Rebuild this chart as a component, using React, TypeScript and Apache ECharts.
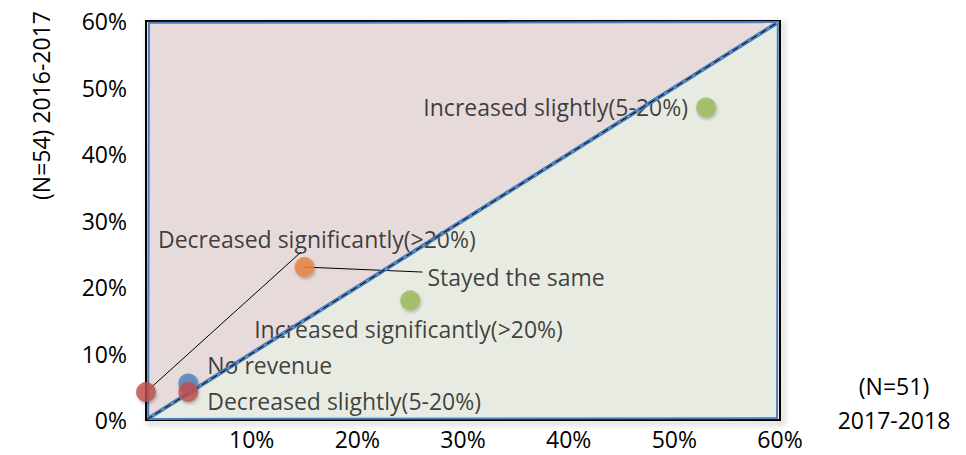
import React, { useEffect, useRef } from "react";
import * as echarts from "echarts";

// ---- data ----
const categories = [
  "Decreased significantly(>20%)",
  "No revenue",
  "Decreased slightly(5-20%)",
  "Stayed the same",
  "Increased significantly(>20%)",
  "Increased slightly(5-20%)",
];
const xValues = [0, 4, 4, 15, 25, 53]; // (N=51) 2017-2018, %
const yValues = [4.2, 5.5, 4.2, 23, 18, 47]; // (N=54) 2016-2017, %
const pointColors = ["#c0504d", "#4f81bd", "#c0504d", "#e8823d", "#9bbb59", "#9bbb59"];

const xTickLabels = ["", "10%", "20%", "30%", "40%", "50%", "60%"];
const yTickLabels = ["0%", "10%", "20%", "30%", "40%", "50%", "60%"];
const xAxisTitle = "(N=51)\n2017-2018";
const yAxisTitle = "(N=54) 2016-2017";

const upperTriangle = [[0, 0], [0, 60], [60, 60]];
const lowerTriangle = [[0, 0], [60, 0], [60, 60]];
const diagonal = [[0, 0], [60, 60]];

// ---- layout (pixel offsets, styles) ----
const labelOffsets: [number, number, string][] = [
  [12, -153, "left"],
  [19, -18, "left"],
  [19, 9, "left"],
  [123, 10, "left"],
  [-156, 29, "left"],
  [-18, 0, "right"],
];
const leaderIndex = [0, 3];
const leaderEnds = [[155, -140], [118, 5]];
const triangleFills = ["#e6dadb", "#e8ebe2"];
const FONT = "Open Sans";
const FS = 23;
const FW = 500;

export default function App() {
  const ref = useRef<HTMLDivElement>(null);
  useEffect(() => {
    if (!ref.current) return;
    const chart = echarts.init(ref.current, undefined, { renderer: "svg" });
    const triangles = [upperTriangle, lowerTriangle];
    const insetTriangle = (api: any) => {
      const pts = [0, 1, 2].map((k) => api.coord([api.value(2 * k), api.value(2 * k + 1)]));
      const cx = (pts[0][0] + pts[1][0] + pts[2][0]) / 3;
      const cy = (pts[0][1] + pts[1][1] + pts[2][1]) / 3;
      return pts.map(([x, y]: number[]) => {
        const dx = cx - x;
        const dy = cy - y;
        const d = Math.hypot(dx, dy) || 1;
        return [x + (dx / d) * 3.5, y + (dy / d) * 3.5];
      });
    };
    const pointData = categories.map((c, i) => ({
      name: c,
      value: [xValues[i], yValues[i]],
      itemStyle: { color: pointColors[i] },
    }));
    chart.setOption({
      animation: false,
      backgroundColor: "#ffffff",
      grid: {
        left: 146,
        right: 186,
        top: 21,
        bottom: 35,
        outerBoundsMode: "none",
        containLabel: false,
        show: true,
        borderColor: "#000",
        borderWidth: 2,
        backgroundColor: "transparent",
        shadowColor: "rgba(0,0,0,0.35)",
        shadowBlur: 6,
        shadowOffsetX: 3,
        shadowOffsetY: 3,
      },
      graphic: [
        {
          type: "text",
          x: 894,
          y: 403,
          style: {
            text: xAxisTitle,
            fill: "#000",
            fontSize: FS,
            fontWeight: FW,
            fontFamily: FONT,
            align: "center",
            verticalAlign: "middle",
            lineHeight: 34,
          },
        },
      ],
      xAxis: {
        type: "value",
        min: 0,
        max: 60,
        interval: 10,
        axisLine: { show: false },
        axisTick: { show: false },
        splitLine: { show: false },
        axisLabel: {
          formatter: (v: number) => xTickLabels[Math.round(v / 10)] ?? "",
          color: "#000",
          fontSize: FS,
          fontWeight: FW,
          fontFamily: FONT,
          lineHeight: 20,
          margin: 9,
        },
      },
      yAxis: {
        type: "value",
        min: 0,
        max: 60,
        interval: 10,
        axisLine: { show: false },
        axisTick: { show: false },
        splitLine: { show: false },
        axisLabel: {
          formatter: (v: number) => yTickLabels[Math.round(v / 10)] ?? "",
          color: "#000",
          fontSize: FS,
          fontWeight: FW,
          fontFamily: FONT,
          margin: 19,
        },
        name: yAxisTitle,
        nameLocation: "middle",
        nameRotate: 90,
        nameGap: 94,
        nameTextStyle: {
          color: "#000",
          fontSize: FS,
          fontWeight: FW,
          fontFamily: FONT,
          padding: [0, 0, 0, 230],
        },
      },
      series: [
        {
          type: "custom",
          silent: true,
          z: 1,
          encode: { x: [0, 2, 4], y: [1, 3, 5] },
          data: triangles.map((t) => t.flat()),
          renderItem: (params: any, api: any) => ({
            type: "polygon",
            shape: { points: insetTriangle(api) },
            style: { fill: triangleFills[params.dataIndex] },
          }),
        },
        {
          type: "custom",
          silent: true,
          z: 2,
          data: leaderIndex.map((i) => [xValues[i], yValues[i]]),
          renderItem: (params: any, api: any) => {
            const p = api.coord([api.value(0), api.value(1)]);
            const e = leaderEnds[params.dataIndex];
            return {
              type: "line",
              shape: { x1: p[0], y1: p[1], x2: p[0] + e[0], y2: p[1] + e[1] },
              style: { stroke: "#000", lineWidth: 1 },
            };
          },
        },
        {
          // labels (under the triangle outlines, as in the reference)
          type: "scatter",
          z: 3,
          clip: false,
          silent: true,
          symbolSize: 0.1,
          data: pointData,
          label: {
            show: true,
            formatter: "{b}",
            color: "#111",
            fontSize: FS,
            fontWeight: FW,
            fontFamily: FONT,
          },
          labelLayout: (params: any) => {
            const o = labelOffsets[params.dataIndex];
            const cx = params.rect.x + params.rect.width / 2;
            const cy = params.rect.y + params.rect.height / 2;
            return { x: cx + o[0], y: cy + o[1], align: o[2], verticalAlign: "middle" };
          },
        },
        {
          type: "custom",
          silent: true,
          z: 4,
          encode: { x: [0, 2, 4], y: [1, 3, 5] },
          data: triangles.map((t) => t.flat()),
          renderItem: (params: any, api: any) => ({
            type: "polygon",
            shape: { points: insetTriangle(api) },
            style: { fill: "none", stroke: "#4a7ebb", lineWidth: 2 },
          }),
        },
        {
          type: "line",
          silent: true,
          z: 5,
          data: diagonal,
          symbol: "none",
          lineStyle: { color: "#000", width: 1, type: [7, 4] },
        },
        {
          type: "scatter",
          z: 6,
          clip: false,
          symbolSize: 20,
          data: pointData,
          itemStyle: {
            shadowColor: "rgba(0,0,0,0.3)",
            shadowBlur: 3,
            shadowOffsetX: 1,
            shadowOffsetY: 2,
          },
          label: { show: false },
        },
      ],
    });
    return () => chart.dispose();
  }, []);
  return <div ref={ref} style={{ width: 966, height: 455, position: "absolute", left: 0, top: 0 }} />;
}
